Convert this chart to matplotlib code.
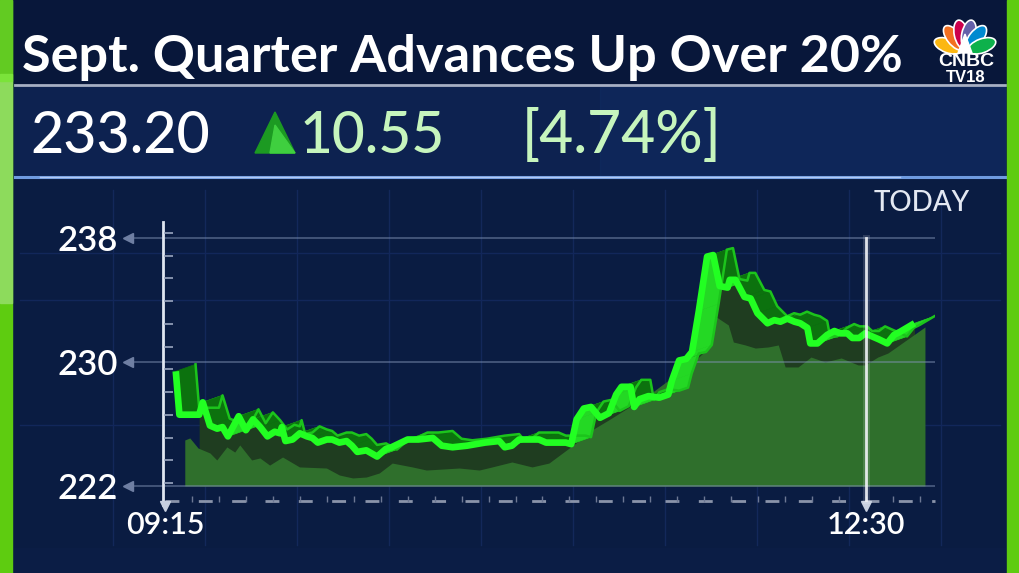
import numpy as np
import matplotlib
matplotlib.use("Agg")
import matplotlib.pyplot as plt
from matplotlib.patches import Rectangle, Polygon, Ellipse
from matplotlib.collections import PolyCollection

# ---------------- data ----------------
title = "Sept. Quarter Advances Up Over 20%"
last_price = "233.20"
change = "10.55"
change_pct = "[4.74%]"
y_ticks = [222, 230, 238]
x_ticks = [0, 195]                 # minutes after 09:15
x_labels = ["09:15", "12:30"]

# price line, minutes after 09:15
line_t = [3.0, 4.0, 9.5, 10.5, 12.5, 14.5, 16.0, 17.5, 20.5, 22.5, 24.5, 26.5,
          28.5, 30.5, 32.0, 32.5, 33.5, 35.5, 37.5, 39.5, 41.0, 42.5, 45.0, 46.5,
          48.5, 50.5, 52.0, 53.5, 56.0, 57.5, 59.0, 61.5, 63.0, 67.5, 70.5, 74.5,
          77.0, 80.0, 84.0, 89.0, 93.0, 94.5, 96.5, 98.5, 104.0, 106.0, 111.5, 113.0,
          114.5, 116.5, 118.5, 121.0, 123.5, 125.5, 127.0, 129.5, 130.5, 132.0, 134.5,
          137.5, 140.0, 141.0, 143.0, 145.0, 146.6, 148.5, 150.8, 152.5, 154.3, 156.5,
          157.1, 158.7, 161.2, 162.9, 164.8, 167.6, 169.5, 171.2, 173.1, 175.1, 176.7,
          178.7, 179.5, 181.5, 184.2, 186.2, 187.8, 189.8, 191.2, 193.1, 194.8, 196.7,
          198.7, 200.9, 202.8, 204.5, 208.5]
line_p = [229.4, 226.6, 226.6, 227.4, 225.9, 225.7, 225.8, 225.2, 226.5, 225.6, 226.3, 225.8,
          225.2, 225.5, 225.4, 225.8, 224.9, 225.0, 225.4, 225.2, 225.1, 224.8, 225.0, 225.0,
          224.8, 224.9, 224.6, 224.2, 224.3, 224.1, 223.9, 224.4, 224.5, 225.0, 225.0, 225.1,
          224.6, 224.5, 224.6, 224.8, 224.9, 224.5, 224.6, 225.0, 225.0, 224.8, 224.8, 224.7,
          226.3, 227.0, 227.1, 226.4, 226.7, 227.9, 228.4, 228.4, 227.1, 227.6, 227.8,
          227.7, 227.9, 228.8, 230.1, 230.2, 230.65, 233.3, 236.8, 236.9, 234.9, 234.8,
          235.3, 235.3, 234.2, 234.1, 233.15, 232.5, 232.7, 232.6, 232.8, 232.6, 232.5,
          232.2, 231.2, 231.2, 231.75, 232.0, 231.85, 231.85, 231.55, 231.55, 231.85, 231.65,
          231.45, 231.2, 231.75, 231.95, 232.5]

# shaded area under the line
area_t = [5.5, 6.9, 9.2, 12.5, 14.4, 17.2, 19.4, 20.8, 24.1, 26.4, 29.1, 32.7, 37.4,
          44.9, 48.5, 52.2, 56.0, 59.6, 63.2, 68.8, 72.7, 81.8, 87.4, 91.0, 96.5, 102.1,
          106.8, 114.3, 118.7, 123.4, 134.5, 147.6, 152.0, 153.4, 156.7, 158.1, 161.4,
          164.2, 167.8, 170.6, 172.5, 176.1, 179.7, 183.6, 188.1, 192.8, 194.7, 198.3,
          201.1, 211.4]
area_p = [224.97, 225.10, 224.45, 224.13, 223.68, 224.52, 224.19, 224.65, 223.68, 223.81,
          223.35, 223.87, 223.23, 223.16, 222.71, 222.52, 222.58, 222.84, 223.48, 223.23,
          223.03, 223.16, 223.03, 223.23, 223.55, 223.23, 223.48, 224.77, 225.61, 226.26,
          227.87, 230.13, 231.10, 232.90, 232.39, 231.29, 231.10, 230.90, 230.97, 231.10,
          229.68, 229.68, 230.32, 230.00, 230.26, 229.81, 229.81, 230.32, 230.58, 232.26]

# ---------------- figure / background ----------------
W, H = 1019, 573
fig = plt.figure(figsize=(W / 100, H / 100), dpi=100)
fig.patch.set_facecolor("#0a1c42")

bg = fig.add_axes([0, 0, 1, 1])
bg.set_xlim(0, W)
bg.set_ylim(H, 0)
bg.axis("off")

bg.add_patch(Rectangle((0, 0), W, H, color="#0a1c42", zorder=0))
bg.add_patch(Rectangle((0, 0), W, 86, color="#08173a", zorder=1))
# quote panel
bg.add_patch(Rectangle((14, 87), 991, 90, color="#0d2250", zorder=1))
bg.add_patch(Rectangle((600, 87), 405, 90, color="#12306a", alpha=0.35, zorder=1))
bg.plot([15, 1005], [85, 85], color="#cfd6e6", lw=2, alpha=0.8, zorder=2)
bg.plot([15, 1005], [177, 177], color="#6f9be0", lw=2.2, zorder=2)
bg.plot([40, 900], [177, 177], color="#dfe8ff", lw=1, alpha=0.6, zorder=2)
# faint background grid in chart panel
for gx in np.arange(113, 1000, 92):
    bg.plot([gx, gx], [190, 545], color="#13285a", lw=1, zorder=1)
for gy in [253, 300, 425]:
    bg.plot([20, 1000], [gy, gy], color="#12275a", lw=1, zorder=1)
bg.add_patch(Rectangle((14, 548), 991, 25, color="#0c1f48", alpha=0.6, zorder=1))

# green side strips
bg.add_patch(Rectangle((0, 0), 12, H, color="#5ecc10", zorder=3))
bg.add_patch(Rectangle((0, 0), 12, 80, color="#62cb22", zorder=3))
bg.add_patch(Rectangle((0, 80), 12, 223, color="#8ddb5c", zorder=3))
bg.add_patch(Rectangle((0, 74), 12, 7, color="#7be33a", zorder=3))
bg.add_patch(Rectangle((1007, 0), 12, H, color="#5ecc10", zorder=3))

# title
fig.canvas.draw()
renderer = fig.canvas.get_renderer()


def fit_width(txt, width):
    bb = txt.get_window_extent(renderer)
    txt.set_fontsize(txt.get_fontsize() * width / bb.width)


t_title = bg.text(22, 72, title, ha="left", va="baseline", color="white",
                  fontsize=50, weight="bold",
                  family=["Lato", "Liberation Sans", "DejaVu Sans"],
                  zorder=4)
fit_width(t_title, 883)

# quote line
qfont = ["Lato", "DejaVu Sans"]
t1 = bg.text(30, 153, last_price, ha="left", va="baseline", color="white",
             fontsize=41, family=qfont, weight="medium", zorder=4)
fit_width(t1, 180)
t2 = bg.text(300, 153, change, ha="left", va="baseline", color="#c6f5bd",
             fontsize=41, family=qfont, weight="medium", zorder=4)
fit_width(t2, 145)
t3 = bg.text(522, 153, change_pct, ha="left", va="baseline", color="#c6f5bd",
             fontsize=41, family=qfont, weight="medium", zorder=4)
fit_width(t3, 200)
bg.add_patch(Polygon([(255, 153), (275, 112), (295, 153)], closed=True,
                     color="#1c9a22", zorder=4))
bg.add_patch(Polygon([(270, 153), (275, 125), (295, 153)], closed=True,
                     color="#3fcf3f", zorder=4))

# CNBC TV18 logo
base = (965, 52)
feathers = [(160, "#fcb711"), (128, "#f37021"), (102, "#cc004c"),
            (78, "#6460aa"), (52, "#0089d0"), (20, "#0db14b")]
for ang, col in feathers:
    a = np.radians(ang)
    c = (base[0] + 18 * np.cos(a), base[1] - 18 * np.sin(a))
    bg.add_patch(Ellipse(c, 29, 14, angle=-ang, facecolor=col,
                         edgecolor="white", lw=1.2, zorder=5))
bg.add_patch(Polygon([(958, 53), (965, 34), (972, 53)], closed=True,
                     color="white", zorder=6))
bg.text(966, 61, "CNBC", ha="center", va="center", color="white", fontsize=14,
        weight="bold", family=["Liberation Sans", "DejaVu Sans"], zorder=6)
bg.text(966, 77, "TV18", ha="center", va="center", color="white", fontsize=12,
        weight="bold", family=["Liberation Sans", "DejaVu Sans"], zorder=6)

bg.text(922, 203, "TODAY", ha="center", va="center", color="#e3e8f2",
        fontsize=20, family=qfont, weight="medium", zorder=4)

# ---------------- chart axes ----------------
# pixel geometry of the plot area
px_left, px_right, px_top, px_bot = 132, 935, 205, 510
ppm = (866 - 165) / 195.0          # pixels per minute
ppu = (486 - 362) / 8.0            # pixels per price unit


def t_of(px):
    return (px - 165) / ppm


def p_of(py):
    return 230 - (py - 362) / ppu


ax = fig.add_axes([px_left / W, 1 - px_bot / H,
                   (px_right - px_left) / W, (px_bot - px_top) / H])
ax.set_facecolor("none")
ax.set_xlim(t_of(px_left), t_of(px_right))
ax.set_ylim(p_of(px_bot), p_of(px_top))
for s in ax.spines.values():
    s.set_visible(False)

t_line = np.array(line_t)
p_line = np.array(line_p)

# shadow band under the line
ax.fill_between(t_line, 222, p_line, where=t_line >= 5.5, interpolate=True,
                color="#1f3d20", lw=0, zorder=1)
# main area
ax.fill_between(area_t, 222, area_p, color="#2f6f2c", lw=0, zorder=2)

# grid lines with left arrows
for v in y_ticks:
    ax.axhline(v, color="#8092b5", lw=1.2, alpha=0.55, zorder=3)
    ax.plot([t_of(128)], [v], marker="<", ms=7, color="#6f7fa3",
            clip_on=False, zorder=3)

# 3D ribbon: walls between the line and a shifted copy
dx, dy = 5.5, 0.45
quads, cols = [], []
for i in range(len(t_line) - 1):
    t0, t1_, p0, p1 = t_line[i], t_line[i + 1], p_line[i], p_line[i + 1]
    quads.append([(t0, p0), (t1_, p1), (t1_ + dx, p1 + dy), (t0 + dx, p0 + dy)])
    sx, sy = (t1_ - t0) * ppm, (p1 - p0) * ppu
    rising = sy * dx * ppm > sx * dy * ppu
    cols.append("#24d824" if rising else "#0c720e")
ax.add_collection(PolyCollection(quads, facecolors=cols, edgecolors=cols,
                                 lw=0.5, zorder=4))
ax.plot(t_line + dx, p_line + dy, color="#1cc41c", lw=1.8, zorder=4.5)
ax.plot(t_line, p_line, color="#22ff22", lw=4.8, solid_joinstyle="round",
        solid_capstyle="butt", zorder=5)

# y axis line and its small ticks
ax.plot([t_of(163)] * 2, [p_of(505), p_of(222)], color="#dfe5f0", lw=2,
        clip_on=False, zorder=6)
minor = np.linspace(p_of(483), p_of(233), 12)
ax.hlines(minor, t_of(164), t_of(173), color="#9aa6c0", lw=1.2, zorder=6)

# x axis dashed line, ticks, markers
ax.plot([t_of(165), t_of(935)], [p_of(501.5)] * 2, color="#8a94aa", lw=2,
        ls=(0, (5, 7)), clip_on=False, zorder=6)
ax.vlines(np.arange(7.5, 214, 7.5), p_of(502), p_of(496), color="#6d7894",
          lw=1, zorder=6)
ax.plot(x_ticks, [p_of(506)] * 2, ls="none", marker="v", ms=7,
        color="#c8d0e0", clip_on=False, zorder=6)

# cursor line at 12:30
ax.plot([195, 195], [p_of(500), p_of(238)], color="white", lw=5, alpha=0.15,
        zorder=7)
ax.plot([195, 195], [p_of(500), p_of(238)], color="#f2f4f8", lw=2, alpha=0.9,
        zorder=7)

ax.set_yticks(y_ticks)
ax.set_yticklabels([str(v) for v in y_ticks])
ax.set_xticks(x_ticks)
ax.set_xticklabels(x_labels)
ax.tick_params(axis="y", length=0, pad=10, labelsize=25, labelcolor="white")
ax.tick_params(axis="x", length=0, pad=1, labelsize=22, labelcolor="white")
for lbl in ax.get_yticklabels() + ax.get_xticklabels():
    lbl.set_family(qfont)
    lbl.set_weight("semibold")

fig.savefig("out.png", dpi=100, facecolor=fig.get_facecolor())
